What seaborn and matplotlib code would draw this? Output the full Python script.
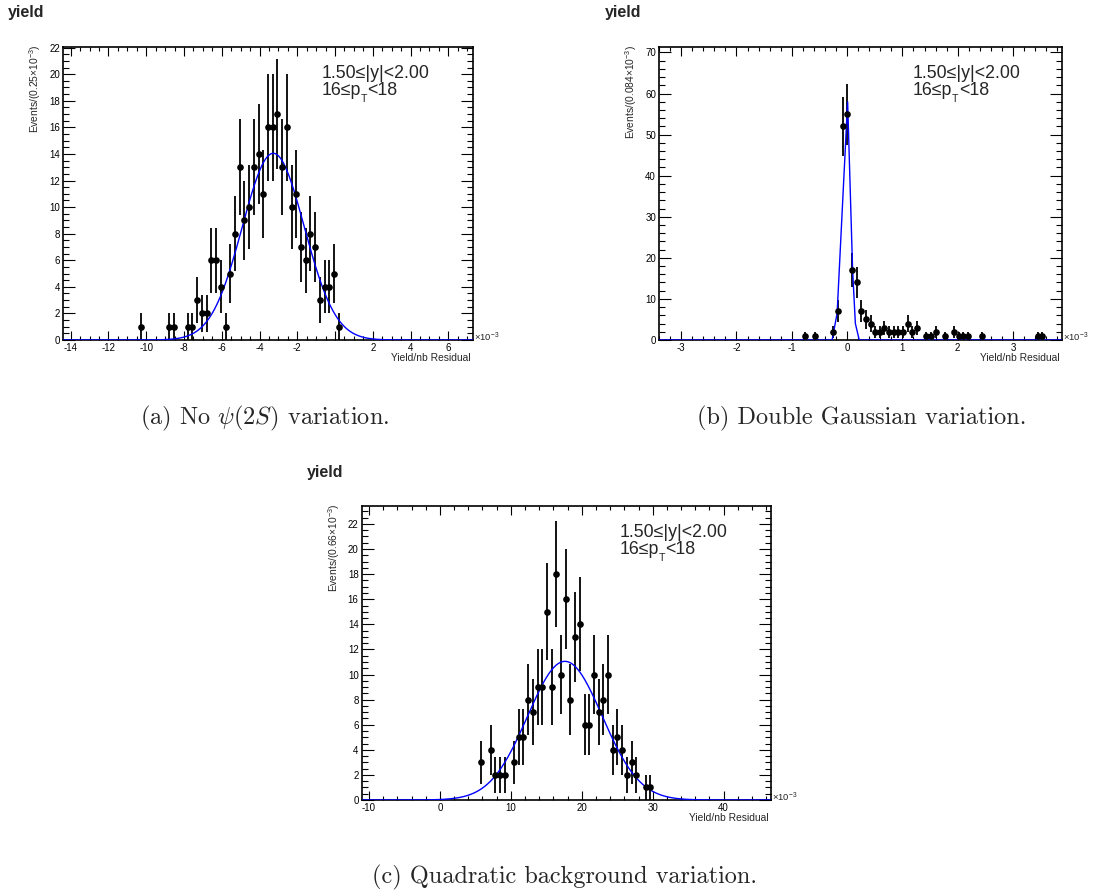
import numpy as np
import pandas as pd
import matplotlib
matplotlib.use("Agg")
import matplotlib.pyplot as plt
from matplotlib.ticker import MultipleLocator
from matplotlib.transforms import IdentityTransform
import seaborn as sns

sns.set_theme(style="ticks")
plt.rcParams["font.family"] = ["Liberation Sans", "DejaVu Sans"]
plt.rcParams["mathtext.fontset"] = "custom"
plt.rcParams["mathtext.rm"] = "Liberation Sans"
plt.rcParams["mathtext.it"] = "Liberation Sans:italic"
plt.rcParams["mathtext.bf"] = "Liberation Sans:bold"
plt.rcParams["axes.linewidth"] = 1.2
plt.rcParams["axes.edgecolor"] = "black"

# ---------------- (a) No psi(2S) variation: residuals, x in units of 1e-3 ----------------
a_centers = [-10.30, -8.80, -8.55, -7.80, -7.55, -7.30, -7.05, -6.80, -6.55, -6.30,
             -6.05, -5.80, -5.55, -5.30, -5.05, -4.80, -4.55, -4.30, -4.05, -3.80,
             -3.55, -3.30, -3.05, -2.80, -2.55, -2.30, -2.05, -1.80, -1.55, -1.30,
             -1.05, -0.80, -0.55, -0.30, -0.05, 0.20]
a_counts = [1, 1, 1, 1, 1, 3, 2, 2, 6, 6,
            4, 1, 5, 8, 13, 9, 10, 13, 14, 11,
            16, 16, 17, 13, 16, 10, 11, 7, 6, 8,
            7, 3, 4, 4, 5, 1]
a_fit_mean, a_fit_sigma, a_fit_peak = -3.27, 1.64, 14.05
a_xlim = (-14.39, 7.29)
a_ylim = (0, 22.07)
a_xticks = [-14, -12, -10, -8, -6, -4, -2, 0, 2, 4, 6]
a_xticklabels = ["-14", "-12", "-10", "-8", "-6", "-4", "-2", "", "2", "4", "6"]

# ---------------- (b) Double Gaussian variation ----------------
b_centers = [-0.752, -0.584, -0.248, -0.164, -0.080, 0.004, 0.088, 0.172, 0.256, 0.340,
             0.424, 0.508, 0.592, 0.676, 0.760, 0.844, 0.928, 1.012, 1.096, 1.180,
             1.264, 1.432, 1.516, 1.600, 1.768, 1.936, 2.020, 2.104, 2.188, 2.440,
             3.448, 3.532]
b_counts = [1, 1, 2, 7, 52, 55, 17, 14, 7, 5,
            4, 2, 2, 3, 2, 2, 2, 2, 4, 2,
            3, 1, 1, 2, 1, 2, 1, 1, 1, 1,
            1, 1]
b_curve_x = [-3.40, -0.27, -0.18, 0.01, 0.10, 0.15, 0.22, 3.88]
b_curve_y = [0.0, 0.0, 6.5, 58.0, 17.0, 4.0, 0.0, 0.0]
b_xlim = (-3.40, 3.88)
b_ylim = (0, 71.4)
b_xticks = [-3, -2, -1, 0, 1, 2, 3]
b_xticklabels = ["-3", "-2", "-1", "0", "1", "2", "3"]

# ---------------- (c) Quadratic background variation ----------------
c_centers = [5.80, 7.13, 7.79, 8.45, 9.12, 10.44, 11.10, 11.77, 12.43, 13.09,
             13.76, 14.42, 15.08, 15.75, 16.41, 17.07, 17.73, 18.40, 19.06, 19.72,
             20.39, 21.05, 21.71, 22.38, 23.04, 23.70, 24.36, 25.03, 25.69, 26.35,
             27.02, 27.68, 29.01, 29.67]
c_counts = [3, 4, 2, 2, 2, 3, 5, 5, 8, 7,
            9, 9, 15, 9, 18, 10, 16, 8, 13, 14,
            6, 6, 10, 7, 8, 10, 4, 5, 4, 2,
            3, 2, 1, 1]
c_fit_mean, c_fit_sigma, c_fit_peak = 17.62, 5.25, 11.05
c_xlim = (-11.03, 46.63)
c_ylim = (0, 23.43)
c_xticks = [-10, 0, 10, 20, 30, 40]
c_xticklabels = ["-10", "0", "10", "20", "30", "40"]

range_line1 = "1.50≤|y|<2.00"
pt_parts = ("16≤p", "T", "<18")
x_title = "Yield/nb Residual"
captions = [r"(a) No $\psi(2S)$ variation.",
            r"(b) Double Gaussian variation.",
            r"(c) Quadratic background variation."]

W, H = 1097, 896
fig = plt.figure(figsize=(W / 100, H / 100), dpi=100)
renderer = fig.canvas.get_renderer()


def add_axes_px(left, right, top, bottom):
    return fig.add_axes([left / W, 1 - bottom / H, (right - left) / W, (bottom - top) / H])


def gauss_curve(xlim, mean, sigma, peak, n=600):
    xs = np.linspace(xlim[0], xlim[1], n)
    return xs, peak * np.exp(-0.5 * ((xs - mean) / sigma) ** 2)


def draw_pt_range(ax, x_axes, base_px_from_top):
    """Second annotation line, with a ROOT-style low subscript T."""
    bb = ax.get_position()
    hpx = bb.height * H
    y_axes = 1 - base_px_from_top / hpx
    t1 = ax.text(x_axes, y_axes, pt_parts[0], ha="left", va="baseline", fontsize=12.8,
                 transform=ax.transAxes)
    base = ax.transAxes.transform((x_axes, y_axes))
    e1 = t1.get_window_extent(renderer)
    t2 = fig.text(e1.x1 - 0.5, base[1] - 6.5, pt_parts[1], ha="left", va="baseline",
                  fontsize=7.6, transform=IdentityTransform())
    e2 = t2.get_window_extent(renderer)
    fig.text(e2.x1 + 0.3, base[1], pt_parts[2], ha="left", va="baseline", fontsize=12.8,
             transform=IdentityTransform())


def draw_panel(ax, centers, counts, curve_x, curve_y, xlim, ylim, xticks, xticklabels,
               xminor, ymajor, yminor, bin_text):
    df = pd.DataFrame({"x": centers, "n": counts})
    err = np.sqrt(df["n"].to_numpy(float))
    ax.vlines(df["x"], df["n"] - err, df["n"] + err, color="black", lw=1.3, zorder=3)
    sns.scatterplot(data=df, x="x", y="n", ax=ax, color="black", s=23,
                    linewidth=0, zorder=4, legend=False)
    cdf = pd.DataFrame({"x": curve_x, "y": curve_y})
    sns.lineplot(data=cdf, x="x", y="y", ax=ax, color="#0000ff", lw=1.0,
                 estimator=None, sort=False, zorder=3)
    ax.set_xlim(*xlim)
    ax.set_ylim(*ylim)
    ax.set_xticks(xticks)
    ax.set_xticklabels(xticklabels)
    ax.xaxis.set_minor_locator(MultipleLocator(xminor))
    ax.yaxis.set_major_locator(MultipleLocator(ymajor))
    ax.yaxis.set_minor_locator(MultipleLocator(yminor))
    ax.set_xlabel("")
    ax.set_ylabel("")
    ax.tick_params(axis="both", which="both", direction="in", top=True, right=True,
                   width=0.8, colors="black", labelsize=7, pad=2.2)
    ax.tick_params(axis="x", which="major", length=6.5)
    ax.tick_params(axis="x", which="minor", length=3.2)
    ax.tick_params(axis="y", which="major", length=8.6)
    ax.tick_params(axis="y", which="minor", length=4.3)
    for sp in ax.spines.values():
        sp.set_visible(True)
        sp.set_linewidth(1.2)
        sp.set_color("black")
    bb = ax.get_position()
    wpx, hpx = bb.width * W, bb.height * H
    ax.text(-28 / wpx, 1 + 2 / hpx, "Events/(" + bin_text + "×10$^{-3}$)", rotation=90,
            ha="center", va="top", fontsize=7.4, transform=ax.transAxes)
    ax.text(1 - 2 / wpx, -18 / hpx, x_title, ha="right", va="center", fontsize=7.4,
            transform=ax.transAxes)
    ax.text(1 + 1 / wpx, -1 / hpx, "×10$^{-3}$", ha="left", va="baseline", fontsize=6.8,
            transform=ax.transAxes)
    ax.text(0.631, 1 - 18.3 / hpx, range_line1, ha="left", va="top", fontsize=12.8,
            transform=ax.transAxes)
    draw_pt_range(ax, 0.631, 48.3)


ax_a = add_axes_px(63.3, 472.7, 46.7, 340)
ax_b = add_axes_px(659.0, 1061.7, 46.7, 340)
ax_c = add_axes_px(361.7, 770.7, 506, 800)

ax_fit_x, ax_fit_y = gauss_curve(a_xlim, a_fit_mean, a_fit_sigma, a_fit_peak)
draw_panel(ax_a, a_centers, a_counts, ax_fit_x, ax_fit_y, a_xlim, a_ylim,
           a_xticks, a_xticklabels, 0.5, 2, 0.5, "0.25")
draw_panel(ax_b, b_centers, b_counts, b_curve_x, b_curve_y, b_xlim, b_ylim,
           b_xticks, b_xticklabels, 0.2, 10, 2, "0.084")
cx_fit_x, cx_fit_y = gauss_curve(c_xlim, c_fit_mean, c_fit_sigma, c_fit_peak)
draw_panel(ax_c, c_centers, c_counts, cx_fit_x, cx_fit_y, c_xlim, c_ylim,
           c_xticks, c_xticklabels, 2, 2, 0.5, "0.66")

# panel titles
for (xp, yp) in [(8, 5), (605, 5), (307, 465)]:
    fig.text(xp / W, 1 - yp / H, "yield", ha="left", va="top", fontsize=11.5,
             fontweight="bold")

# subfigure captions
for cap, (xc, yb) in zip(captions, [(265, 424), (862, 424), (565, 883)]):
    fig.text(xc / W, 1 - yb / H, cap, ha="center", va="baseline", fontsize=17.5,
             family="cmr10", math_fontfamily="cm")

fig.savefig("out.png", dpi=100)
